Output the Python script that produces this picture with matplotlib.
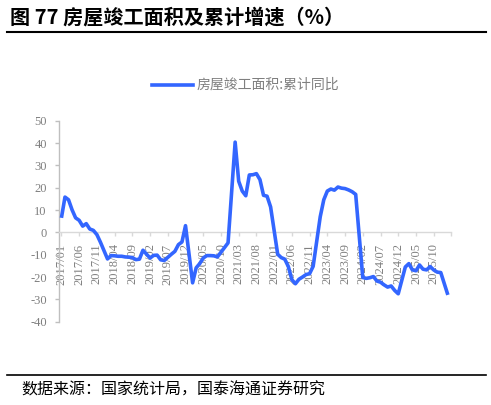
import numpy as np
import matplotlib
matplotlib.use("Agg")
import matplotlib.pyplot as plt
from matplotlib.lines import Line2D

nan = np.nan

# Monthly categories 2017/01 .. 2026/02
months = [f"{y}/{m:02d}" for y in range(2017, 2027) for m in range(1, 13)][:110]

# 房屋竣工面积: 累计同比 (%), January values absent (line connects across)
v2017 = [6.5, 15.8, 14.6, 10.1, 6.5, 5.4, 2.8, 3.9, 1.5, 0.9, -1.0, -4.4]
v2018 = [nan, -11.9, -10.4, -10.5, -10.7, -10.7, -11.0, -11.1, -11.3, -12.2, -12.0, -8.0]
v2019 = [nan, -11.5, -10.3, -10.2, -12.3, -12.6, -11.2, -9.8, -8.5, -5.5, -4.3, 3.0]
v2020 = [nan, -22.6, -15.9, -14.0, -11.5, -10.4, -10.4, -10.5, -11.0, -8.9, -6.8, -4.7]
v2021 = [nan, 40.4, 22.9, 18.5, 16.4, 25.7, 25.8, 26.3, 23.6, 16.6, 16.2, 11.4]
v2022 = [nan, -9.8, -11.3, -12.0, -15.3, -21.2, -23.0, -21.0, -20.0, -18.9, -18.5, -15.2]
v2023 = [nan, 7.0, 14.6, 18.5, 19.4, 18.9, 20.3, 19.8, 19.6, 19.0, 18.2, 17.0]
v2024 = [nan, -20.2, -20.6, -20.3, -19.8, -21.8, -22.3, -23.5, -24.5, -24.0, -26.0, -27.5]
v2025 = [nan, -15.5, -14.0, -16.8, -17.2, -14.6, -16.5, -16.8, -15.3, -16.8, -17.8, -18.0]
v2026 = [nan, -28.0]

values = v2017 + v2018 + v2019 + v2020 + v2021 + v2022 + v2023 + v2024 + v2025 + v2026

yticks = [-40, -30, -20, -10, 0, 10, 20, 30, 40, 50]
title = "图 77 房屋竣工面积及累计增速（%）"
legend_label = "房屋竣工面积:累计同比"
source = "数据来源：国家统计局，国泰海通证券研究"

plt.rcParams['font.family'] = ['Noto Sans CJK SC', 'DejaVu Sans']

W, H = 491, 405
fig = plt.figure(figsize=(W / 100, H / 100), dpi=100)

def fx(px):
    return px / W

def fy(py):
    return 1 - py / H

ax = fig.add_axes([fx(59.3), fy(321.7), fx(450.7) - fx(59.3), fy(120.7) - fy(321.7)])

x = np.arange(len(months))
v = np.array(values, dtype=float)
mask = ~np.isnan(v)
line_color = '#3366FF'
ax.plot(x[mask], v[mask], color=line_color, lw=2.6,
        solid_joinstyle='round', solid_capstyle='butt', zorder=3)

ax.set_xlim(-0.6, 109.8)
ax.set_ylim(-40, 50)

axis_gray = '#bfbfbf'
label_gray = '#7f7f7f'

for s in ['top', 'right']:
    ax.spines[s].set_visible(False)
ax.spines['left'].set_color(axis_gray)
ax.spines['left'].set_linewidth(1.0)
ax.spines['bottom'].set_position(('data', 0))
ax.spines['bottom'].set_color('#d9d9d9')
ax.spines['bottom'].set_linewidth(1.0)

ax.set_yticks(yticks)
ax.set_yticklabels([str(t) for t in yticks], family='Liberation Serif',
                   fontsize=9, color=label_gray)
ax.tick_params(axis='y', direction='out', length=3, width=1,
               color=axis_gray, pad=6)

tick_idx = list(range(0, len(months), 5))
ax.set_xticks(tick_idx)
ax.set_xticklabels([months[i] for i in tick_idx], rotation=90,
                   family='Liberation Serif', fontsize=9, color=label_gray,
                   ha='center', va='top')
ax.set_xticks([109.8], minor=True)
ax.tick_params(axis='x', which='both', direction='out', length=3, width=1,
               color='#d9d9d9', pad=5)

# Legend
fig.add_artist(Line2D([fx(152), fx(193)], [fy(85), fy(85)], color=line_color, lw=2.6))
fig.text(fx(197), fy(85), legend_label, fontsize=10, color=label_gray,
         va='center', ha='left')

# Title and rules
fig.text(fx(10), fy(17), title, fontsize=14.5, fontweight='bold',
         va='center', ha='left', color='black')
fig.add_artist(Line2D([fx(7), fx(486)], [fy(31.7), fy(31.7)], color='black', lw=1.5))
fig.add_artist(Line2D([fx(7), fx(486)], [fy(375), fy(375)], color='black', lw=1.2))
fig.text(fx(21.7), fy(390), source, fontsize=11.5, va='center', ha='left', color='black')

fig.savefig('out.png', dpi=100)
